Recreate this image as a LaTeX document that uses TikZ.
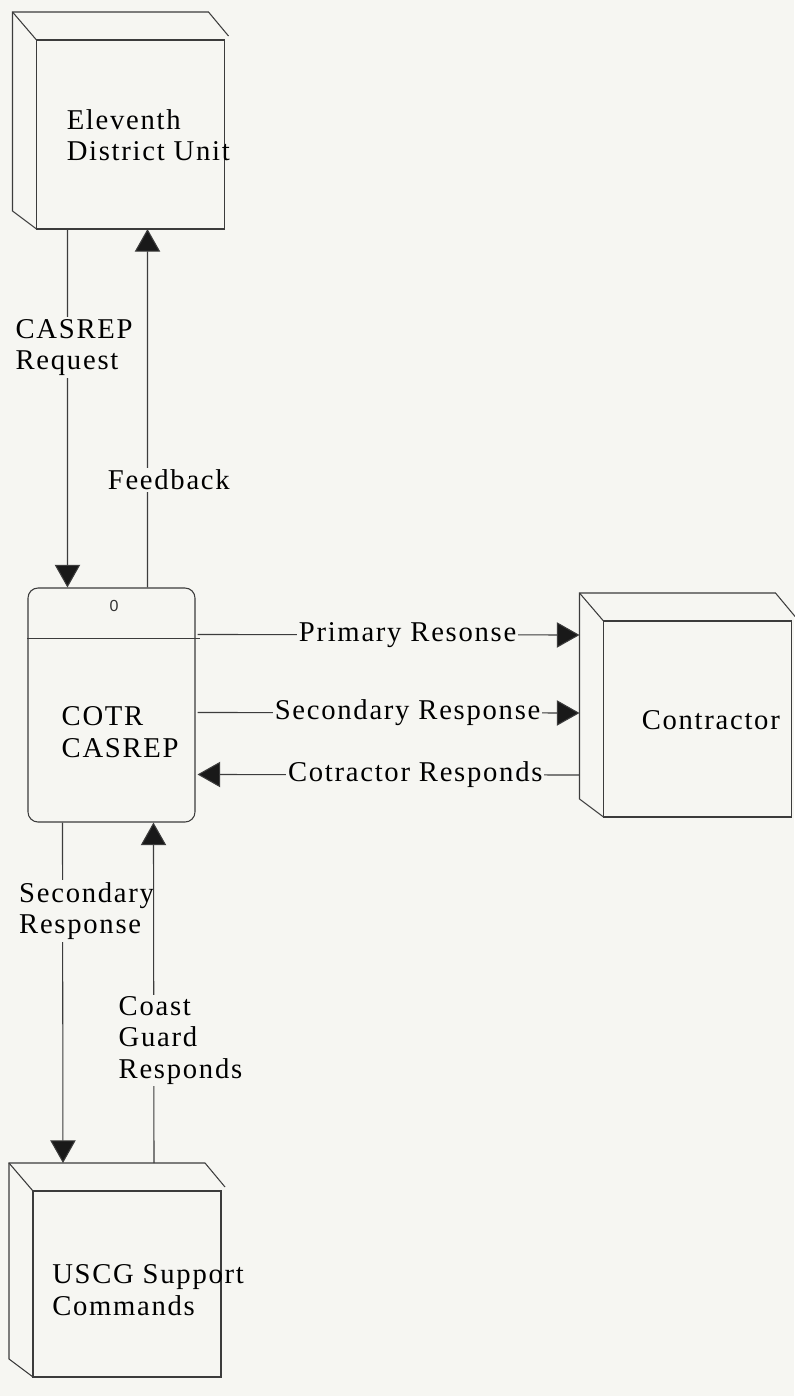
\documentclass[tikz,border=0pt]{standalone}
\usepackage{fontspec}
\setmainfont{Liberation Serif}[LetterSpace=6]
\setsansfont{Liberation Sans}
\usetikzlibrary{arrows.meta}
\usetikzlibrary{calc}

\definecolor{paper}{RGB}{246,246,242}
\definecolor{ink}{RGB}{60,60,60}

\tikzset{
  boxline/.style={ink, line width=0.8pt},
  ext/.style={minimum width=159pt, inner sep=0pt, outer sep=0pt},
  flow/.style={ink, line width=0.8pt},
  flowlbl/.style={fill=paper, inner sep=1.5pt, align=left, text=black},
  txt/.style={align=left, inner sep=0pt, anchor=west, text=black}
}

% front face and back edges of an external entity
\newcommand{\extback}[1]{%
  \draw[boxline] ($(#1.north west)+(24,28)$) rectangle (#1.south east);
  \draw[boxline] ($(#1.south west)+(24,0)$) -- ($(#1.south west)+(0,-18)$)
    -- (#1.north west) -- ($(#1.north east)+(-16,0)$) -- ($(#1.north east)+(4,24)$);
  \draw[boxline] (#1.north west) -- ($(#1.north west)+(24,28)$);
}

\begin{document}
\begin{tikzpicture}[x=0.75pt,y=-0.75pt,>={Triangle[length=17pt,width=19pt,fill=black!90]},
    font=\fontsize{21.5}{23.5}\selectfont]
        \fill[paper] (0,0) rectangle (794,1396);
        \useasboundingbox (0,0) rectangle (794,1396);

        % entities
        \node[ext, minimum height=162.75pt] (edu) at (118.5,120.5) {};
        \node[ext, minimum height=168pt] (con) at (685.5,705) {};
        \node[ext, minimum height=160.5pt] (uscg) at (115,1270) {};
        \foreach \e in {edu,con,uscg}{
            \extback{\e}
        }
        \node[txt] (edutxt) at ($(edu.west)+(54,15)$) {Eleventh\\District Unit};
        \node[txt] (contxt) at ($(con.west)+(62,15)$) {Contractor};
        \node[txt] (uscgtxt) at ($(uscg.west)+(43,20)$) {USCG Support\\Commands};

        % process
        \node[draw, boxline, rounded corners=7.5pt, minimum width=125.25pt,
            minimum height=175.5pt, inner sep=0pt] (proc) at (111.5,705) {};
        \draw[boxline] ($(proc.north west)+(0,51)$) -- ($(proc.north east)+(4,51)$);
        \node[font=\fontsize{12}{14}\sffamily, text=black!80] (procid) at ($(proc.north)+(2.5,19)$) {0};
        \node[txt] (proctxt) at ($(proc.west)+(34,27)$) {COTR\\CASREP};

        % flows
        \draw[flow,->] ($(edu.south west)+(55,0)$) -- ($(proc.north west)+(40,0)$)
            node[flowlbl,pos=0.33,xshift=5pt] {CASREP\\Request};
        \draw[flow,->] ($(proc.north west)+(120,0)$) -- ($(edu.south west)+(135,0)$)
            node[flowlbl,pos=0.30,xshift=16pt] {Feedback};
        \draw[flow,->] ($(proc.north east)+(2,47)$) -- ($(con.north west)+(0,42)$)
            node[flowlbl,pos=0.55] {Primary Resonse};
        \draw[flow,->] ($(proc.north east)+(2,125)$) -- ($(con.north west)+(0,120)$)
            node[flowlbl,pos=0.55] {Secondary Response};
        \draw[flow,->] ($(con.north west)+(0,182)$) -- ($(proc.north east)+(2,187)$)
            node[flowlbl,pos=0.43] {Cotractor Responds};
        \draw[flow,->] ($(proc.south west)+(35,0)$) -- ($(uscg.north west)+(54,0)$)
            node[flowlbl,pos=0.26,xshift=18pt] {Secondary\\Response};
        \draw[flow,->] ($(uscg.north west)+(145,0)$) -- ($(proc.south west)+(126,0)$)
            node[flowlbl,pos=0.36,xshift=20pt] {Coast\\Guard\\Responds};
    \end{tikzpicture}
\end{document}
